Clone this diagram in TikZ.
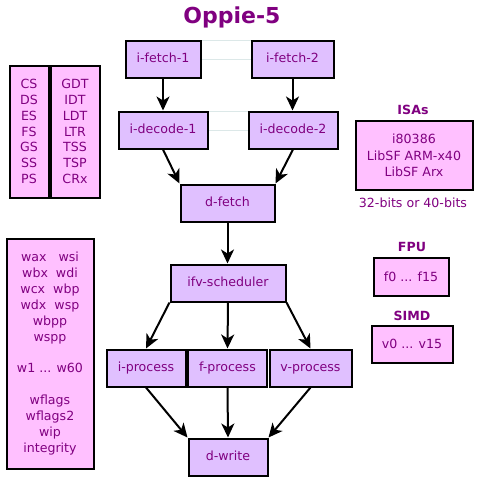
\documentclass[tikz,border=0pt]{standalone}
\usepackage{fontspec}
\setmainfont{DejaVu Sans}
\usetikzlibrary{arrows.meta}
\definecolor{txt}{HTML}{800080}
\definecolor{proc}{HTML}{E0C0FF}
\definecolor{regs}{HTML}{FFC0FF}
\definecolor{faint}{HTML}{DCE8E8}
\begin{document}
\begin{tikzpicture}[x=1pt,y=-1pt,
  every node/.style={font=\fontsize{12.6}{15.9}\selectfont, text=txt, inner sep=0pt},
  stage/.style={draw=black, line width=2pt, fill=proc, minimum height=37pt, text height=9pt, text depth=2.5pt},
  regbox/.style={draw=black, line width=2pt, fill=regs, align=center},
  lbl/.style={font=\fontsize{12.6}{15.9}\selectfont\bfseries},
  flow/.style={-{Stealth[length=14pt,width=13pt,inset=4pt]}, line width=2pt},
  ghost/.style={draw=faint, line width=0.8pt}]
\useasboundingbox (0,0) rectangle (482,485);

\node[font=\fontsize{22}{26}\selectfont\bfseries] (title) at (232,17) {Oppie-5};

% faint links (drawn first, under the boxes)
\coordinate (f1) at (201,40.5);
\coordinate (f2) at (251,40.5);
\coordinate (f3) at (201,59);
\coordinate (f4) at (251,59);
\coordinate (d1) at (208,111.5);
\coordinate (d2) at (248,111.5);
\coordinate (d3) at (208,130);
\coordinate (d4) at (248,130);
\draw[ghost] (f1) -- (f2);
\draw[ghost] (f3) -- (f4);
\draw[ghost] (d1) -- (d2);
\draw[ghost] (d3) -- (d4);

% pipeline stages
\node[stage, minimum width=75pt] (if1) at (163,59) {i-fetch-1};
\node[stage, minimum width=82pt] (if2) at (292.5,59) {i-fetch-2};
\node[stage, minimum width=89pt] (id1) at (163,130) {i-decode-1};
\node[stage, minimum width=89pt] (id2) at (293,130) {i-decode-2};
\node[stage, minimum width=94pt] (df) at (227.5,203) {d-fetch};
\node[stage, minimum width=115pt] (ifv) at (228,283) {ifv-scheduler};
\node[stage, minimum width=79pt] (ip) at (146,368) {i-process};
\node[stage, minimum width=79pt] (fp) at (227.5,368) {f-process};
\node[stage, minimum width=82pt] (vp) at (310.5,368) {v-process};
\node[stage, minimum width=79pt] (dw) at (228,457) {d-write};

% register boxes left
\node[regbox, minimum width=39pt, minimum height=132pt] (seg) at (29,131.5) {CS\\DS\\ES\\FS\\GS\\SS\\PS};
\node[regbox, minimum width=49pt, minimum height=132pt] (tbl) at (75,131.5) {GDT\\IDT\\LDT\\LTR\\TSS\\TSP\\CRx};
\node[regbox, minimum width=87pt, minimum height=230pt] (wregs) at (50,353.5) {wax\ \ \ wsi\\wbx\ \ wdi\\wcx\ \ wbp\\wdx\ \ wsp\\wbpp\\wspp\\[15.9pt]w1 ... w60\\[15.9pt]wflags\\wflags2\\wip\\integrity};

% right side
\node[lbl] (isal) at (413,110) {ISAs};
\node[regbox, minimum width=117pt, minimum height=69pt, font=\fontsize{12.6}{16.5}\selectfont] (isa) at (414,155.5) {i80386\\LibSF ARM-x40\\LibSF Arx};
\node (bits) at (413,203) {32-bits or 40-bits};
\node[lbl] (fpul) at (412,247) {FPU};
\node[regbox, minimum width=75pt, minimum height=38pt] (fpu) at (411,276.5) {f0 ... f15};
\node[lbl] (simdl) at (412,316) {SIMD};
\node[regbox, minimum width=81pt, minimum height=37pt] (simd) at (412,344) {v0 ... v15};

% flow arrows
\draw[flow] (if1.south) -- (id1.north);
\draw[flow] (if2.south) -- (if2.south |- id2.north);
\draw[flow] (id1.south) -- (df.north west);
\draw[flow] (id2.south) -- (df.north east);
\draw[flow] (df.south) -- (df.south |- ifv.north);
\draw[flow] (ifv.south west) -- (ip.north);
\draw[flow] (ifv.south) -- (fp.north);
\draw[flow] (ifv.south east) -- (vp.north);
\draw[flow] (ip.south) -- (dw.north west);
\draw[flow] (fp.south) -- (dw.north);
\draw[flow] (vp.south) -- (dw.north east);
\end{tikzpicture}
\end{document}
